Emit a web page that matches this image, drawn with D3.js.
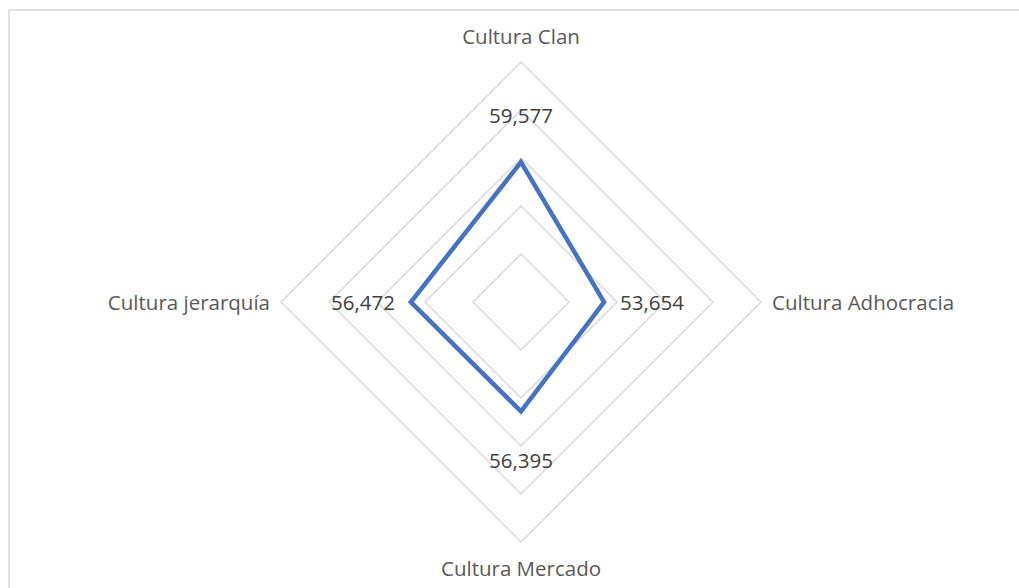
<!DOCTYPE html>
<html>
  <head>
    <meta charset="utf-8">
    <script src="https://cdn.jsdelivr.net/npm/d3@7/dist/d3.min.js"></script>
    <style>
      body {
        margin: 0;
        background: #fff;
      }

      text {
        font-family: "Open Sans", sans-serif;
        font-size: 20.5px;
      }

      .grid {
        fill: none;
        stroke: #d9d9d9;
        stroke-width: 1.5px;
      }

      .series {
        fill: none;
        stroke: #4472c4;
        stroke-width: 4.5px;
        stroke-linejoin: miter;
      }

      .cat {
        fill: #595959;
      }

      .val {
        fill: #404040;
      }
    </style>
  </head>
  <body>
    <script>
      const categories = ['Cultura Clan', 'Cultura Adhocracia', 'Cultura Mercado', 'Cultura jerarquía'];
      const values = [59.577, 53.654, 56.395, 56.472];
      const valueLabels = ['59,577', '53,654', '56,395', '56,472'];
      const gridTicks = [50, 55, 60, 65, 70];
      const axisMin = 45;
      const axisMax = 70;

      const width = 1019;
      const height = 588;
      const cx = 521;
      const cy = 302;
      const radius = 240;

      const r = d3.scaleLinear()
        .domain([axisMin, axisMax])
        .range([0, radius]);

      // first axis points up, then clockwise
      const a = d3.scaleLinear()
        .domain([0, categories.length])
        .range([0, 2 * Math.PI]);

      const pt = (i, rad) => [
        cx + rad * Math.sin(a(i)),
        cy - rad * Math.cos(a(i))
      ];

      const svg = d3.select('body')
        .append('svg')
        .attr('width', width)
        .attr('height', height);

      // chart frame
      svg.append('rect')
        .attr('x', 9)
        .attr('y', 10)
        .attr('width', 1040)
        .attr('height', 620)
        .style('fill', 'none')
        .style('stroke', '#d9d9d9')
        .style('stroke-width', '1.5px');

      const line = d3.line();

      svg.selectAll('.grid')
        .data(gridTicks)
        .enter()
        .append('path')
        .attr('class', 'grid')
        .attr('d', t => line(categories.map((c, i) => pt(i, r(t)))) + 'Z');

      svg.append('path')
        .attr('class', 'series')
        .attr('d', line(values.map((v, i) => pt(i, r(v)))) + 'Z');

      // category labels, outside the outer ring
      const catPos = [
        {dx: 0, dy: -26, anchor: 'middle'},
        {dx: 11, dy: 0, anchor: 'start'},
        {dx: 0, dy: 26, anchor: 'middle'},
        {dx: -11, dy: 0, anchor: 'end'}
      ];

      svg.selectAll('.cat')
        .data(categories)
        .enter()
        .append('text')
        .attr('class', 'cat')
        .attr('x', (c, i) => pt(i, radius)[0] + catPos[i].dx)
        .attr('y', (c, i) => pt(i, radius)[1] + catPos[i].dy)
        .attr('text-anchor', (c, i) => catPos[i].anchor)
        .attr('dominant-baseline', 'central')
        .text(c => c);

      // data labels, pushed outwards from each point
      const valPos = [
        {dx: 0, dy: -47, anchor: 'middle'},
        {dx: 16, dy: 0, anchor: 'start'},
        {dx: 0, dy: 49, anchor: 'middle'},
        {dx: -16, dy: 0, anchor: 'end'}
      ];

      svg.selectAll('.val')
        .data(values)
        .enter()
        .append('text')
        .attr('class', 'val')
        .attr('x', (v, i) => pt(i, r(v))[0] + valPos[i].dx)
        .attr('y', (v, i) => pt(i, r(v))[1] + valPos[i].dy)
        .attr('text-anchor', (v, i) => valPos[i].anchor)
        .attr('dominant-baseline', 'central')
        .text((v, i) => valueLabels[i]);
    </script>
  </body>
</html>
